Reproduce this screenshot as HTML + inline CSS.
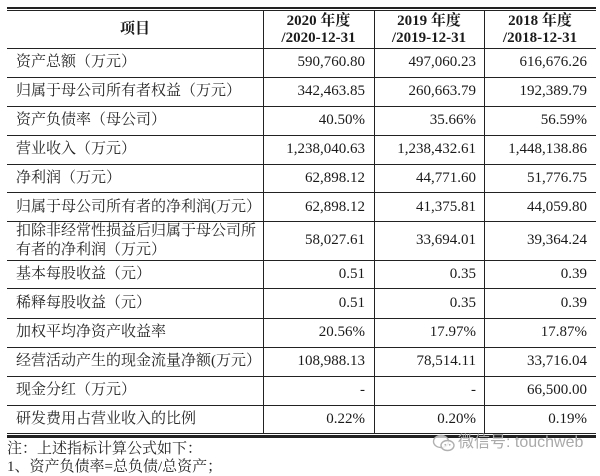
<!DOCTYPE html>
<html>
<head>
<meta charset="utf-8">
<style>
  html,body{margin:0;padding:0;background:#fff;}
  body{width:600px;height:471px;overflow:hidden;position:relative;
       font-family:"Liberation Serif","Noto Serif CJK SC",serif;color:#1a1a1a;}
  .h{position:absolute;left:7px;width:589px;background:#222;}
  .v{position:absolute;top:10px;width:1px;height:424px;background:#222;}
  .lab{position:absolute;left:16px;font-size:15px;white-space:nowrap;color:#262626;
       font-family:"Liberation Serif","Noto Serif CJK SC",serif;}
  .num{position:absolute;font-size:15px;text-align:right;white-space:nowrap;
       font-family:"Liberation Serif","Noto Serif CJK SC",serif;}
  .c1{left:263px;width:102px;}
  .c2{left:374px;width:102px;}
  .c3{left:484px;width:103px;}
  .hd{position:absolute;font-weight:bold;font-size:15px;text-align:center;line-height:16.5px;
      font-family:"Liberation Serif","Noto Serif CJK SC",serif;}
</style>
</head>
<body>
<!-- horizontal lines -->
<div class="h" style="top:7px;height:2px;"></div>
<div class="h" style="top:10px;height:1px;"></div>
<div class="h" style="top:48px;height:1px;"></div>
<div class="h" style="top:77px;height:1px;"></div>
<div class="h" style="top:106px;height:1px;"></div>
<div class="h" style="top:135px;height:1px;"></div>
<div class="h" style="top:164px;height:1px;"></div>
<div class="h" style="top:192px;height:1px;"></div>
<div class="h" style="top:221px;height:1px;"></div>
<div class="h" style="top:260px;height:1px;"></div>
<div class="h" style="top:288px;height:1px;"></div>
<div class="h" style="top:318px;height:1px;"></div>
<div class="h" style="top:347px;height:1px;"></div>
<div class="h" style="top:376px;height:1px;"></div>
<div class="h" style="top:405px;height:1px;"></div>
<div class="h" style="top:433px;height:1px;"></div>
<div class="h" style="top:435px;height:2.5px;"></div>

<!-- vertical lines -->
<div class="v" style="left:263px;"></div>
<div class="v" style="left:374px;"></div>
<div class="v" style="left:484px;"></div>

<!-- header -->
<div class="hd" style="left:7px;width:256px;top:11px;height:37px;line-height:37px;">项目</div>
<div class="hd" style="left:263px;width:111px;top:13px;">2020 年度<br>/2020-12-31</div>
<div class="hd" style="left:374px;width:110px;top:13px;">2019 年度<br>/2019-12-31</div>
<div class="hd" style="left:484px;width:112px;top:13px;">2018 年度<br>/2018-12-31</div>

<!-- rows -->
<div class="lab" style="top:48px;line-height:29px;">资产总额（万元）</div>
<div class="num c1" style="top:48px;line-height:29px;">590,760.80</div>
<div class="num c2" style="top:48px;line-height:29px;">497,060.23</div>
<div class="num c3" style="top:48px;line-height:29px;">616,676.26</div>

<div class="lab" style="top:77px;line-height:29px;">归属于母公司所有者权益（万元）</div>
<div class="num c1" style="top:77px;line-height:29px;">342,463.85</div>
<div class="num c2" style="top:77px;line-height:29px;">260,663.79</div>
<div class="num c3" style="top:77px;line-height:29px;">192,389.79</div>

<div class="lab" style="top:106px;line-height:29px;">资产负债率（母公司）</div>
<div class="num c1" style="top:106px;line-height:29px;">40.50%</div>
<div class="num c2" style="top:106px;line-height:29px;">35.66%</div>
<div class="num c3" style="top:106px;line-height:29px;">56.59%</div>

<div class="lab" style="top:135px;line-height:29px;">营业收入（万元）</div>
<div class="num c1" style="top:135px;line-height:29px;">1,238,040.63</div>
<div class="num c2" style="top:135px;line-height:29px;">1,238,432.61</div>
<div class="num c3" style="top:135px;line-height:29px;">1,448,138.86</div>

<div class="lab" style="top:164px;line-height:28.5px;">净利润（万元）</div>
<div class="num c1" style="top:164px;line-height:28.5px;">62,898.12</div>
<div class="num c2" style="top:164px;line-height:28.5px;">44,771.60</div>
<div class="num c3" style="top:164px;line-height:28.5px;">51,776.75</div>

<div class="lab" style="top:192.5px;line-height:28.5px;">归属于母公司所有者的净利润(万元）</div>
<div class="num c1" style="top:192.5px;line-height:28.5px;">62,898.12</div>
<div class="num c2" style="top:192.5px;line-height:28.5px;">41,375.81</div>
<div class="num c3" style="top:192.5px;line-height:28.5px;">44,059.80</div>

<div class="lab" style="top:222px;line-height:18.5px;">扣除非经常性损益后归属于母公司所<br>有者的净利润（万元）</div>
<div class="num c1" style="top:221px;line-height:39px;">58,027.61</div>
<div class="num c2" style="top:221px;line-height:39px;">33,694.01</div>
<div class="num c3" style="top:221px;line-height:39px;">39,364.24</div>

<div class="lab" style="top:260px;line-height:28px;">基本每股收益（元）</div>
<div class="num c1" style="top:260px;line-height:28px;">0.51</div>
<div class="num c2" style="top:260px;line-height:28px;">0.35</div>
<div class="num c3" style="top:260px;line-height:28px;">0.39</div>

<div class="lab" style="top:288px;line-height:30px;">稀释每股收益（元）</div>
<div class="num c1" style="top:288px;line-height:30px;">0.51</div>
<div class="num c2" style="top:288px;line-height:30px;">0.35</div>
<div class="num c3" style="top:288px;line-height:30px;">0.39</div>

<div class="lab" style="top:318px;line-height:29px;">加权平均净资产收益率</div>
<div class="num c1" style="top:318px;line-height:29px;">20.56%</div>
<div class="num c2" style="top:318px;line-height:29px;">17.97%</div>
<div class="num c3" style="top:318px;line-height:29px;">17.87%</div>

<div class="lab" style="top:347px;line-height:29px;">经营活动产生的现金流量净额(万元）</div>
<div class="num c1" style="top:347px;line-height:29px;">108,988.13</div>
<div class="num c2" style="top:347px;line-height:29px;">78,514.11</div>
<div class="num c3" style="top:347px;line-height:29px;">33,716.04</div>

<div class="lab" style="top:376px;line-height:29px;">现金分红（万元）</div>
<div class="num c1" style="top:376px;line-height:29px;">-</div>
<div class="num c2" style="top:376px;line-height:29px;">-</div>
<div class="num c3" style="top:376px;line-height:29px;">66,500.00</div>

<div class="lab" style="top:405px;line-height:28px;">研发费用占营业收入的比例</div>
<div class="num c1" style="top:405px;line-height:28px;">0.22%</div>
<div class="num c2" style="top:405px;line-height:28px;">0.20%</div>
<div class="num c3" style="top:405px;line-height:28px;">0.19%</div>

<!-- notes -->
<div class="lab" style="left:7px;top:440px;line-height:18px;">注：上述指标计算公式如下：<br>1、资产负债率=总负债/总资产；</div>

<!-- watermark -->
<svg style="position:absolute;left:432px;top:434px;" width="24" height="18" viewBox="0 0 24 18">
  <ellipse cx="9" cy="7.5" rx="7.5" ry="6" fill="#fff" fill-opacity="0.7" stroke="#b0b0b0" stroke-width="1.4"/>
  <ellipse cx="15.5" cy="11.5" rx="6.5" ry="5" fill="#fff" fill-opacity="0.8" stroke="#b0b0b0" stroke-width="1.4"/>
  <circle cx="13.3" cy="10.8" r="0.9" fill="#b0b0b0"/>
  <circle cx="17.7" cy="10.8" r="0.9" fill="#b0b0b0"/>
</svg>
<div style="position:absolute;left:458px;top:433px;line-height:20px;font-size:16px;color:#aaaaaa;white-space:nowrap;
     font-family:'Liberation Sans','Noto Sans CJK SC',sans-serif;">微信号: touchweb</div>
</body>
</html>
